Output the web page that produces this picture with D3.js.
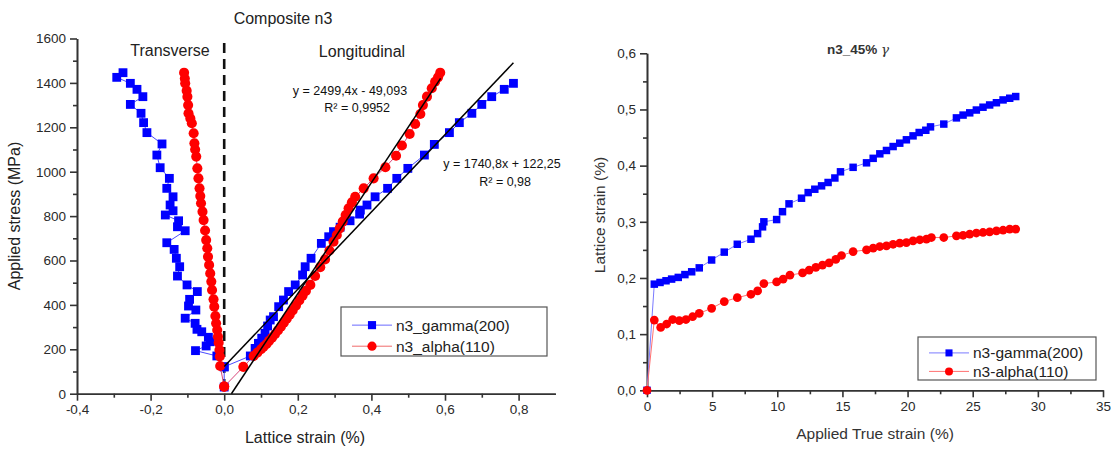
<!DOCTYPE html>
<html lang="en">
  <head>
    <meta charset="UTF-8" />
    <title>Composite n3 lattice strain</title>
    <script src="https://cdn.jsdelivr.net/npm/d3@7"></script>
    <style>
      body { margin: 0; background: #fff; }
      text { font-family: "Liberation Sans", Arial, sans-serif; }
    </style>
  </head>
  <body>
    <div id='app'></div>

    <script>
  // ---- left chart: [lattice strain %, applied stress MPa]
  const gammaTransverse = [
    [0, 30], [0, 121], [-0.020, 170], [-0.078, 194], [-0.049, 215], [-0.038, 234], [-0.043, 254],
    [-0.061, 279], [-0.074, 290], [-0.079, 317], [-0.106, 340], [-0.077, 377], [-0.097, 395],
    [-0.094, 425], [-0.073, 460], [-0.101, 490], [-0.127, 530], [-0.121, 572], [-0.130, 610],
    [-0.136, 650], [-0.156, 680], [-0.106, 734], [-0.127, 752], [-0.124, 779], [-0.160, 805],
    [-0.139, 824], [-0.147, 850], [-0.139, 887], [-0.156, 925], [-0.149, 970], [-0.174, 1018],
    [-0.183, 1075], [-0.169, 1125], [-0.210, 1176], [-0.219, 1221], [-0.226, 1263], [-0.255, 1303],
    [-0.221, 1338], [-0.237, 1371], [-0.255, 1398], [-0.292, 1425], [-0.275, 1446]
  ]
  const gammaLongitudinal = [
    [0, 121], [0.071, 170], [0.084, 204], [0.093, 227], [0.102, 250], [0.111, 272], [0.118, 305],
    [0.125, 332], [0.134, 347], [0.148, 392], [0.161, 422], [0.175, 460], [0.193, 490],
    [0.213, 535], [0.220, 572], [0.236, 610], [0.264, 677], [0.284, 707], [0.297, 730],
    [0.315, 750], [0.342, 779], [0.368, 809], [0.370, 827], [0.388, 850], [0.410, 887],
    [0.444, 925], [0.469, 970], [0.499, 1015], [0.544, 1075], [0.571, 1123], [0.612, 1176],
    [0.639, 1221], [0.673, 1263], [0.700, 1303], [0.727, 1338], [0.761, 1371], [0.786, 1398]
  ]
  const alphaTransverse = [
    [0, 32], [-0.011, 125], [-0.012, 168], [-0.013, 197], [-0.015, 230], [-0.017, 257],
    [-0.019, 287], [-0.022, 317], [-0.024, 350], [-0.027, 392], [-0.029, 425], [-0.033, 467],
    [-0.035, 505], [-0.038, 542], [-0.041, 580], [-0.044, 617], [-0.046, 655], [-0.049, 692],
    [-0.052, 735], [-0.056, 782], [-0.059, 820], [-0.063, 858], [-0.065, 890], [-0.067, 925],
    [-0.070, 970], [-0.073, 1015], [-0.076, 1068], [-0.079, 1100], [-0.081, 1128], [-0.083, 1173],
    [-0.088, 1218], [-0.092, 1240], [-0.097, 1263], [-0.098, 1300], [-0.100, 1338],
    [-0.102, 1365], [-0.106, 1398], [-0.107, 1420], [-0.109, 1446]
  ]
  const alphaLongitudinal = [
    [0, 32], [0.052, 121], [0.080, 170], [0.090, 185], [0.100, 200], [0.107, 212], [0.115, 224],
    [0.122, 238], [0.130, 252], [0.138, 268], [0.146, 285], [0.154, 302], [0.162, 320],
    [0.170, 338], [0.178, 356], [0.186, 375], [0.195, 397], [0.204, 420], [0.213, 442],
    [0.222, 463], [0.234, 490], [0.247, 530], [0.261, 570], [0.274, 605], [0.286, 645],
    [0.297, 685], [0.306, 715], [0.314, 745], [0.322, 775], [0.330, 805], [0.338, 835],
    [0.347, 862], [0.356, 887], [0.379, 925], [0.406, 970], [0.438, 1020], [0.467, 1072],
    [0.483, 1118], [0.504, 1170], [0.519, 1215], [0.533, 1260], [0.540, 1300], [0.551, 1338],
    [0.564, 1376], [0.573, 1405], [0.581, 1425], [0.587, 1446]
  ]
  // linear fits: slope, intercept, strain range
  const fitAlpha = { slope: 2499.4, intercept: -49.093, from: 0.0196, to: 0.588 }
  const fitGamma = { slope: 1740.8, intercept: 122.25, from: 0, to: 0.786 }
  const fitLabels = [
    ['y = 2499,4x - 49,093', 'R² = 0,9952'],
    ['y = 1740,8x + 122,25', 'R² = 0,98']
  ]
  const leftXTicks = [-0.4, -0.2, 0, 0.2, 0.4, 0.6, 0.8]
  const leftYTicks = [0, 200, 400, 600, 800, 1000, 1200, 1400, 1600]

  // ---- right chart: [applied true strain %, lattice strain %]
  const gamma45 = [
    [0, 0], [0.56, 0.189], [1.0, 0.192], [1.46, 0.195], [1.89, 0.198], [2.4, 0.201], [2.91, 0.206],
    [3.43, 0.211], [4.01, 0.218], [4.96, 0.232], [5.93, 0.246], [6.93, 0.260], [7.98, 0.269],
    [8.49, 0.279], [8.87, 0.291], [8.97, 0.300], [9.95, 0.304], [10.4, 0.318], [10.9, 0.332],
    [11.86, 0.342], [12.37, 0.352], [12.88, 0.358], [13.4, 0.364], [13.9, 0.370], [14.42, 0.378],
    [14.85, 0.389], [15.82, 0.397], [16.85, 0.405], [17.36, 0.413], [17.87, 0.421], [18.38, 0.427],
    [18.89, 0.434], [19.4, 0.440], [19.91, 0.446], [20.42, 0.453], [20.89, 0.459], [21.4, 0.463],
    [21.76, 0.469], [22.78, 0.474], [23.75, 0.485], [24.26, 0.490], [24.77, 0.494], [25.28, 0.499],
    [25.79, 0.504], [26.3, 0.508], [26.82, 0.512], [27.33, 0.517], [27.84, 0.520], [28.3, 0.523]
  ]
  const alpha45 = [
    [0, 0], [0.56, 0.125], [1.05, 0.112], [1.51, 0.118], [1.97, 0.126], [2.48, 0.124], [2.99, 0.126],
    [3.5, 0.131], [4.01, 0.137], [4.96, 0.146], [5.93, 0.158], [6.93, 0.165], [7.98, 0.171],
    [8.49, 0.177], [8.97, 0.190], [9.95, 0.193], [10.45, 0.198], [10.97, 0.205], [11.94, 0.209],
    [12.45, 0.214], [12.96, 0.219], [13.47, 0.223], [13.98, 0.227], [14.49, 0.233], [14.93, 0.240],
    [15.82, 0.247], [16.85, 0.250], [17.36, 0.253], [17.87, 0.256], [18.38, 0.257], [18.89, 0.260],
    [19.4, 0.262], [19.91, 0.263], [20.42, 0.266], [20.94, 0.268], [21.45, 0.269], [21.83, 0.272],
    [22.78, 0.272], [23.75, 0.275], [24.26, 0.276], [24.77, 0.278], [25.28, 0.280], [25.79, 0.281],
    [26.3, 0.282], [26.82, 0.284], [27.33, 0.285], [27.84, 0.287], [28.3, 0.287]
  ]
  const rightXTicks = [0, 5, 10, 15, 20, 25, 30, 35]
  const rightYTicks = [0, 0.1, 0.2, 0.3, 0.4, 0.5, 0.6]

  const blue = '#0000ff'
  const red = '#ff0000'
  const comma = d => d.toFixed(1).replace('.', ',')

  const svg = d3.select('#app').append('svg')
    .attr('width', 1111)
    .attr('height', 449)

  // minor ticks halfway between major ticks
  function minors(ticks) {
    const out = []
    for (let i = 0; i < ticks.length - 1; i++) out.push((ticks[i] + ticks[i + 1]) / 2)
    return out
  }

  function drawAxes(g, x, y, xTicks, yTicks, xFmt, yFmt) {
    g.append('g').attr('transform', `translate(0,${y.range()[0]})`)
      .call(d3.axisBottom(x).tickValues(minors(xTicks)).tickSize(4).tickFormat('').tickSizeOuter(0))
    g.append('g').attr('transform', `translate(${x.range()[0]},0)`)
      .call(d3.axisLeft(y).tickValues(minors(yTicks)).tickSize(4).tickFormat('').tickSizeOuter(0))
    g.append('g').attr('transform', `translate(0,${y.range()[0]})`)
      .call(d3.axisBottom(x).tickValues(xTicks).tickSize(7).tickPadding(4).tickFormat(xFmt).tickSizeOuter(0))
    g.append('g').attr('transform', `translate(${x.range()[0]},0)`)
      .call(d3.axisLeft(y).tickValues(yTicks).tickSize(7).tickPadding(4).tickFormat(yFmt).tickSizeOuter(0))
    g.selectAll('.domain, .tick line').attr('stroke', '#333').attr('stroke-width', 1.6)
    g.selectAll('.tick text').attr('fill', '#2a2a2a').style('font-size', '13.5px')
  }

  function drawSeries(g, data, x, y, shape, color, lineColor, size) {
    g.append('path')
      .datum(data)
      .attr('fill', 'none')
      .attr('stroke', lineColor)
      .attr('stroke-width', 1)
      .attr('d', d3.line().x(d => x(d[0])).y(d => y(d[1])))
    const sym = d3.symbol().type(shape === 'square' ? d3.symbolSquare : d3.symbolCircle).size(size)
    g.selectAll(null)
      .data(data)
      .join('path')
      .attr('transform', d => `translate(${x(d[0])},${y(d[1])})`)
      .attr('d', sym)
      .attr('fill', color)
  }

  function drawLegend(g, x0, y0, w, h, items, size) {
    g.append('rect')
      .attr('x', x0).attr('y', y0).attr('width', w).attr('height', h)
      .attr('fill', '#fff').attr('stroke', '#555').attr('stroke-width', 1.2)
    items.forEach((it, i) => {
      const cy = y0 + h * (i === 0 ? 0.37 : 0.8)
      g.append('line')
        .attr('x1', x0 + 11).attr('x2', x0 + 51).attr('y1', cy).attr('y2', cy)
        .attr('stroke', it.line).attr('stroke-width', 1)
      g.append('path')
        .attr('transform', `translate(${x0 + 31},${cy})`)
        .attr('d', d3.symbol().type(it.shape === 'square' ? d3.symbolSquare : d3.symbolCircle).size(size))
        .attr('fill', it.color)
      g.append('text')
        .attr('x', x0 + 55).attr('y', cy).attr('dy', '0.36em')
        .attr('fill', '#222').style('font-size', '15.5px')
        .text(it.label)
    })
  }

  // ================= left chart =================
  const left = svg.append('g')
  const xL = d3.scaleLinear().domain([-0.4, 0.9]).range([77, 555.4])
  const yL = d3.scaleLinear().domain([0, 1600]).range([393.7, 38.5])

  drawAxes(left, xL, yL, leftXTicks, leftYTicks, comma, d3.format('d'))

  // transverse / longitudinal separator
  left.append('line')
    .attr('x1', xL(0)).attr('x2', xL(0))
    .attr('y1', yL(1580)).attr('y2', yL(0))
    .attr('stroke', '#111').attr('stroke-width', 2.6)
    .attr('stroke-dasharray', '10,6')

  drawSeries(left, gammaTransverse, xL, yL, 'square', blue, '#4b4bff', 78)
  drawSeries(left, gammaLongitudinal, xL, yL, 'square', blue, '#4b4bff', 78)
  drawSeries(left, alphaTransverse, xL, yL, 'circle', red, '#d9467a', 80)
  drawSeries(left, alphaLongitudinal, xL, yL, 'circle', red, '#d9467a', 80)

  // fit lines
  ;[fitAlpha, fitGamma].forEach(f => {
    left.append('line')
      .attr('x1', xL(f.from)).attr('y1', yL(f.slope * f.from + f.intercept))
      .attr('x2', xL(f.to)).attr('y2', yL(f.slope * f.to + f.intercept))
      .attr('stroke', '#000').attr('stroke-width', 1.5)
  })

  const eq = left.append('g').style('font-size', '12.5px').attr('fill', '#111')
  eq.append('text').attr('x', 350).attr('y', 95).attr('text-anchor', 'middle').text(fitLabels[0][0])
  eq.append('text').attr('x', 390).attr('y', 112).attr('text-anchor', 'end').text(fitLabels[0][1])
  eq.append('text').attr('x', 502).attr('y', 168).attr('text-anchor', 'middle').text(fitLabels[1][0])
  eq.append('text').attr('x', 531).attr('y', 186).attr('text-anchor', 'end').text(fitLabels[1][1])

  left.append('text').attr('x', 283).attr('y', 24).attr('text-anchor', 'middle')
    .style('font-size', '16px').attr('fill', '#222').text('Composite n3')
  left.append('text').attr('x', 170).attr('y', 56).attr('text-anchor', 'middle')
    .style('font-size', '16px').attr('fill', '#222').text('Transverse')
  left.append('text').attr('x', 362).attr('y', 57).attr('text-anchor', 'middle')
    .style('font-size', '16px').attr('fill', '#222').text('Longitudinal')

  left.append('text').attr('x', 305).attr('y', 443).attr('text-anchor', 'middle')
    .style('font-size', '16px').attr('fill', '#222').text('Lattice strain (%)')
  left.append('text')
    .attr('transform', 'translate(20,216) rotate(-90)')
    .attr('text-anchor', 'middle')
    .style('font-size', '16px').attr('fill', '#222').text('Applied stress (MPa)')

  drawLegend(left, 341, 307, 206, 49, [
    { label: 'n3_gamma(200)', shape: 'square', color: blue, line: '#6a6aff' },
    { label: 'n3_alpha(110)', shape: 'circle', color: red, line: '#f06a6a' }
  ], 66)

  // ================= right chart =================
  const right = svg.append('g')
  const xR = d3.scaleLinear().domain([0, 35]).range([647, 1103])
  const yR = d3.scaleLinear().domain([0, 0.6]).range([390.3, 53.3])

  drawAxes(right, xR, yR, rightXTicks, rightYTicks, d3.format('d'), comma)

  drawSeries(right, gamma45, xR, yR, 'square', blue, '#7a7aff', 56)
  drawSeries(right, alpha45, xR, yR, 'circle', red, '#ff7070', 60)

  const ttl = right.append('text').attr('x', 858).attr('y', 54).attr('text-anchor', 'middle')
    .style('font-size', '13.5px').style('font-weight', 'bold').attr('fill', '#333')
  ttl.append('tspan').text('n3_45% ')
  ttl.append('tspan').style('font-family', '"DejaVu Serif", serif').style('font-style', 'italic')
    .style('font-weight', 'normal').text('γ')

  right.append('text').attr('x', 875).attr('y', 439).attr('text-anchor', 'middle')
    .style('font-size', '15.5px').attr('fill', '#333').text('Applied True strain (%)')
  right.append('text')
    .attr('transform', 'translate(605,215) rotate(-90)')
    .attr('text-anchor', 'middle')
    .style('font-size', '15.5px').attr('fill', '#333').text('Lattice strain (%)')

  drawLegend(right, 918, 337, 178, 43, [
    { label: 'n3-gamma(200)', shape: 'square', color: blue, line: '#7a7aff' },
    { label: 'n3-alpha(110)', shape: 'circle', color: red, line: '#ff7070' }
  ], 50)
    </script>
  </body>
</html>
